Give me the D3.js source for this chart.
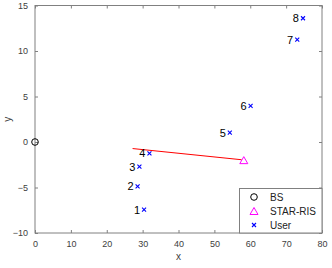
<!DOCTYPE html>
<html><head><meta charset="utf-8">
<script src="https://cdn.jsdelivr.net/npm/d3@7"></script>
<style>body{margin:0;background:#fff}svg{display:block}text{font-family:"Liberation Sans",Arial,sans-serif}</style>
</head><body><svg id="c" width="332" height="268"></svg>
<script>
const bsX = [0], bsY = [0];
const risX = [58.2], risY = [-2.05];
const lineX = [27.2, 57.6], lineY = [-0.72, -1.95];
const userX = [30.4, 28.6, 29.1, 31.9, 54.3, 60.1, 73.1, 74.7];
const userY = [-7.44, -4.87, -2.7, -1.24, 1.02, 3.96, 11.24, 13.6];
const userLabels = ["1","2","3","4","5","6","7","8"];
const xTicks = [0,10,20,30,40,50,60,70,80];
const yTicks = [-10,-5,0,5,10,15];
const legendLabels = ["BS","STAR-RIS","User"];

const svg = d3.select("#c");
const L=35,R=322,T=5.5,B=233;
const x = d3.scaleLinear().domain([0,80]).range([L,R]);
const y = d3.scaleLinear().domain([-10,15]).range([B,T]);
const axisCol="#808080", txtCol="#404040";

svg.append("rect").attr("x",L).attr("y",T).attr("width",R-L).attr("height",B-T).attr("fill","#fff").attr("stroke",axisCol).attr("stroke-width",1);

function styleAxis(g, labels){
  g.select(".domain").remove();
  g.selectAll("line").attr("stroke",axisCol);
  g.selectAll("text").attr("fill",txtCol).attr("font-size",9);
  if(!labels) g.selectAll("text").remove();
}
svg.append("g").attr("transform",`translate(0,${B})`).call(d3.axisBottom(x).tickValues(xTicks).tickSizeInner(-3).tickPadding(8)).call(g=>styleAxis(g,true));
svg.append("g").attr("transform",`translate(0,${T})`).call(d3.axisTop(x).tickValues(xTicks).tickSizeInner(-3)).call(g=>styleAxis(g,false));
svg.append("g").attr("transform",`translate(${L},0)`).call(d3.axisLeft(y).tickValues(yTicks).tickSizeInner(-3).tickPadding(7)).call(g=>styleAxis(g,true));
svg.append("g").attr("transform",`translate(${R},0)`).call(d3.axisRight(y).tickValues(yTicks).tickSizeInner(-3)).call(g=>styleAxis(g,false));

svg.append("text").attr("x",(L+R)/2).attr("y",260).attr("text-anchor","middle").attr("font-size",10).attr("fill",txtCol).text("x");
svg.append("text").attr("transform",`translate(11,${(T+B)/2}) rotate(-90)`).attr("text-anchor","middle").attr("font-size",10).attr("fill",txtCol).text("y");

// red line
const lineData = lineX.map((v,i)=>[v,lineY[i]]);
svg.append("path").attr("d",d3.line().x(d=>x(d[0])).y(d=>y(d[1]))(lineData)).attr("stroke","#ff0000").attr("stroke-width",1).attr("fill","none");

function circleM(g,cx,cy){g.append("circle").attr("cx",cx).attr("cy",cy).attr("r",3.3).attr("fill","none").attr("stroke","#000").attr("stroke-width",1);}
function triM(g,cx,cy){g.append("path").attr("d",`M${cx},${cy-4}L${cx+4},${cy+3}L${cx-4},${cy+3}Z`).attr("fill","none").attr("stroke","#ff00ff").attr("stroke-width",1);}
function xM(g,cx,cy){const s=2;g.append("path").attr("d",`M${cx-s},${cy-s}L${cx+s},${cy+s}M${cx-s},${cy+s}L${cx+s},${cy-s}`).attr("stroke","#0000ff").attr("stroke-width",1.1);}

bsX.forEach((v,i)=>circleM(svg,x(v),y(bsY[i])));
risX.forEach((v,i)=>triM(svg,x(v),y(risY[i])));
userX.forEach((v,i)=>{
  xM(svg,x(v),y(userY[i]));
  svg.append("text").attr("x",x(v)-4).attr("y",y(userY[i])+4).attr("text-anchor","end").attr("font-size",11).attr("fill","#000").text(userLabels[i]);
});

// legend
const lg = svg.append("g");
lg.append("rect").attr("x",239.5).attr("y",188.5).attr("width",R-239.5).attr("height",B-188.5).attr("fill","#fff").attr("stroke",axisCol);
const ly=[197,211,225];
circleM(lg,254,ly[0]); triM(lg,254,ly[1]+0.5); xM(lg,254,ly[2]);
legendLabels.forEach((t,i)=>lg.append("text").attr("x",270).attr("y",ly[i]+4).attr("font-size",10).attr("fill","#222").text(t));
</script></body></html>
